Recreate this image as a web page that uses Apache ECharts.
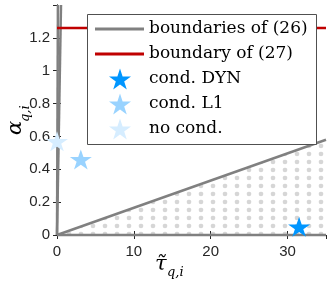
<!DOCTYPE html>
<html>
<head>
<meta charset="utf-8">
<script src="https://cdn.jsdelivr.net/npm/echarts@6/dist/echarts.min.js"></script>
<style>html,body{margin:0;padding:0;background:#fff}#c{width:332px;height:295px}</style>
</head>
<body>
<div id="c"></div>
<script>
// ---- data ----
const xTicks = [0, 10, 20, 30];
const yTicks = [0, 0.2, 0.4, 0.6, 0.8, 1, 1.2];
const boundaryLow = [[0, 0], [35, 0.58]];      // lower boundary of (26)
const boundarySteepA = [[0, 0], [0.12, 1.4]];  // steep boundary of (26)
const boundarySteepB = [[0, 0], [0.52, 1.4]];  // steep boundary of (26)
const boundaryBottom = [[0, 0], [35, 0]];      // alpha = 0
const boundary27 = [[0, 1.26], [35, 1.26]];    // boundary of (27)
const condDYN = [[31.5, 0.05]];
const condL1 = [[3.1, 0.46]];
const noCond = [[0, 0.57]];
const legendNames = ['boundaries of (26)', 'boundary of (27)', 'cond. DYN', 'cond. L1', 'no cond.'];

// dot pattern for the feasible region
const pc = document.createElement('canvas');
pc.width = 12; pc.height = 8;
const g = pc.getContext('2d');
g.fillStyle = '#d6d6d6';
for (const dx of [-12, 0, 12]) for (const dy of [-8, 0, 8]) {
  g.beginPath(); g.arc(9 + dx, 2 + dy, 2.3, 0, Math.PI * 2); g.fill();
}

const starPts = [[50,0],[61.23,34.55],[97.55,34.55],[68.16,55.9],[79.39,90.45],[50,69.1],[20.61,90.45],[31.84,55.9],[2.45,34.55],[38.77,34.55]];
const star = 'path://M' + starPts.map(p => p.join(',')).join(' L') + ' Z';
const gray = '#808080';
const red = '#c00000';
const axisCol = '#262626';
const clear = 'rgba(0,0,0,0)';
const cDYN = '#0096ff', cL1 = '#99d3ff', cNo = '#d6edff';

const chart = echarts.init(document.getElementById('c'), null, {renderer: 'canvas'});
const lineS = (data, extra) => Object.assign({
  type: 'line', name: legendNames[0], data, symbol: 'none', showSymbol: false,
  lineStyle: {color: gray, width: 2.5}, itemStyle: {color: clear, borderWidth: 0}, animation: false, z: 3
}, extra || {});
const starS = (name, data, color) => ({
  type: 'scatter', name, data, symbol: star, symbolSize: [22, 21], symbolKeepAspect: true,
  itemStyle: {color, opacity: 1}, clip: false, animation: false, z: 5
});

// legend box drawn as graphic (rows at fixed pitch)
const legRows = [
  {kind: 'line', color: gray}, {kind: 'line', color: red},
  {kind: 'star', color: cDYN}, {kind: 'star', color: cL1}, {kind: 'star', color: cNo}
];
const legend = [{type: 'rect', z: 30, shape: {x: 87.5, y: 14.5, width: 229, height: 130},
  style: {fill: '#fff', stroke: '#505050', lineWidth: 1}}];
legRows.forEach((r, i) => {
  const cy = 29 + 25 * i;
  if (r.kind === 'line') {
    legend.push({type: 'line', z: 31, shape: {x1: 95, y1: cy, x2: 144, y2: cy}, style: {stroke: r.color, lineWidth: 3}});
  } else {
    const sx = 22 / 95.1, sy = 21 / 90.45;
    legend.push({type: 'polygon', z: 31,
      shape: {points: starPts.map(p => [109 + (p[0] - 2.45) * sx, cy - 10.5 + p[1] * sy])},
      style: {fill: r.color}});
  }
  legend.push({type: 'text', z: 31, x: 149, y: cy, style: {text: legendNames[i], font: '17px "DejaVu Serif"', fill: '#000', verticalAlign: 'middle'}});
});

chart.setOption({
  animation: false,
  grid: {left: 57, right: 6, top: 5, bottom: 60},
  xAxis: [{
    type: 'value', min: 0, max: 35, interval: 10, position: 'bottom',
    axisLine: {show: true, lineStyle: {color: axisCol, width: 1}},
    axisTick: {show: true, inside: true, length: 4, lineStyle: {color: axisCol}},
    axisLabel: {show: true, margin: 9, color: axisCol, fontSize: 15, fontFamily: 'Liberation Sans', showMaxLabel: false,
      formatter: v => xTicks.includes(v) ? String(v) : ''},
    splitLine: {show: false}
  }, {
    type: 'value', min: 0, max: 35, interval: 10, position: 'top',
    axisLine: {show: true, lineStyle: {color: axisCol, width: 1}},
    axisTick: {show: true, inside: true, length: 4, lineStyle: {color: axisCol}},
    axisLabel: {show: false}, splitLine: {show: false}
  }],
  yAxis: [{
    type: 'value', min: 0, max: 1.4, interval: 0.2, position: 'left',
    axisLine: {show: true, lineStyle: {color: axisCol, width: 1}},
    axisTick: {show: true, inside: true, length: 4, lineStyle: {color: axisCol}},
    axisLabel: {show: true, margin: 7, color: axisCol, fontSize: 15, fontFamily: 'Liberation Sans', showMaxLabel: false,
      formatter: v => { const t = yTicks.find(y => Math.abs(y - v) < 1e-9); return t === undefined ? '' : String(t); }},
    splitLine: {show: false}
  }, {
    type: 'value', min: 0, max: 1.4, interval: 0.2, position: 'right',
    axisLine: {show: true, lineStyle: {color: axisCol, width: 1}},
    axisTick: {show: true, inside: true, length: 4, lineStyle: {color: axisCol}},
    axisLabel: {show: false}, splitLine: {show: false}
  }],
  legend: {show: false, data: legendNames},
  graphic: [
    {type: 'text', left: 155, top: 254, z: 20, style: {text: 'τ̃', font: 'italic 21px "DejaVu Serif"', fill: '#000'}},
    {type: 'text', left: 167, top: 266, z: 20, style: {text: 'q,i', font: 'italic 13px "DejaVu Serif"', fill: '#000'}},
    {type: 'group', x: 26, y: 135, rotation: Math.PI / 2, z: 20, children: [
      {type: 'text', x: 0, y: 0, style: {text: 'α', font: 'italic 21px "DejaVu Serif"', fill: '#000', verticalAlign: 'bottom'}},
      {type: 'text', x: 13, y: 6, style: {text: 'q,i', font: 'italic 13px "DejaVu Serif"', fill: '#000', verticalAlign: 'bottom'}}
    ]}
  ].concat(legend),
  series: [
    lineS(boundaryLow, {areaStyle: {color: {image: pc, repeat: 'repeat'}, opacity: 1, origin: 'start'}}),
    lineS(boundarySteepA),
    lineS(boundarySteepB),
    lineS(boundaryBottom, {clip: false}),
    {type: 'line', name: legendNames[1], data: boundary27, symbol: 'none', showSymbol: false,
      lineStyle: {color: red, width: 2.5}, itemStyle: {color: clear, borderWidth: 0}, z: 3},
    starS(legendNames[2], condDYN, cDYN),
    starS(legendNames[3], condL1, cL1),
    starS(legendNames[4], noCond, cNo)
  ]
});
</script>
</body>
</html>
